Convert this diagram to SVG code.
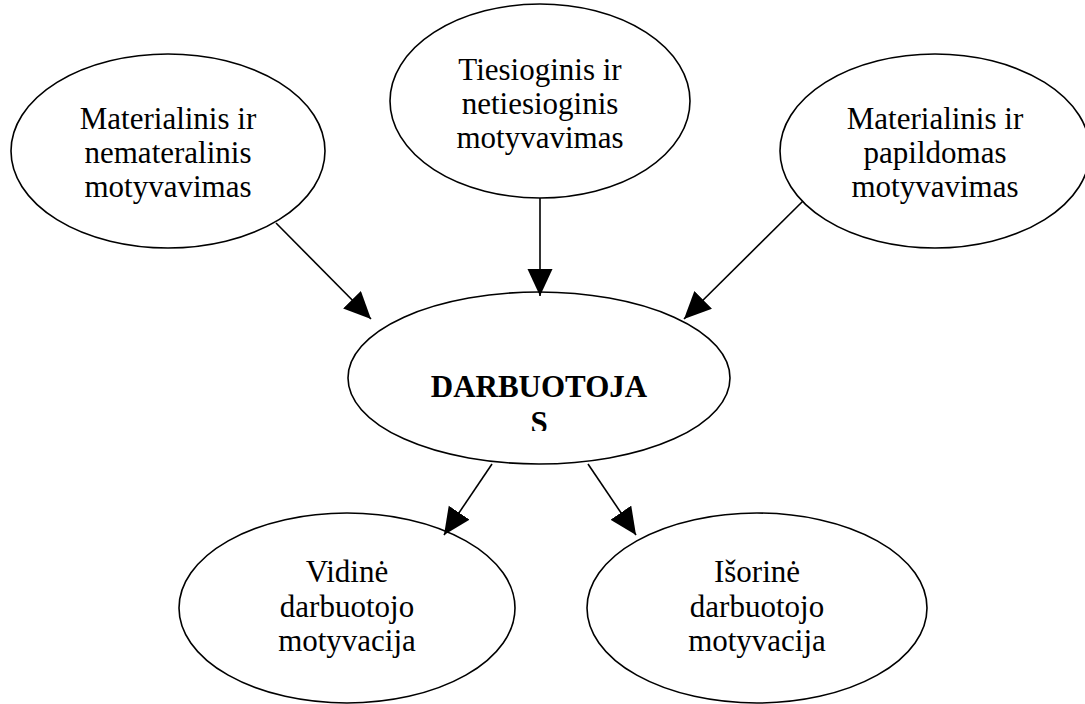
<svg xmlns="http://www.w3.org/2000/svg" width="1085" height="704" viewBox="0 0 1085 704">
<style>
.node ellipse{fill:#fff;stroke:#000;stroke-width:1.6}
.node text{font-family:"Liberation Serif","Times New Roman",serif;font-size:31px;fill:#000;text-anchor:middle}
.node text.b{font-weight:bold}
.conn line{stroke:#000;stroke-width:1.6;marker-end:url(#ah)}
</style>
<defs>
<marker id="ah" markerUnits="userSpaceOnUse" markerWidth="28" markerHeight="26" refX="27" refY="12.5" orient="auto">
<path d="M0,0 L27,12.5 L0,25 Z" fill="#000"/>
</marker>
<clipPath id="cc"><rect x="340" y="290" width="400" height="141"/></clipPath>
</defs>
<rect width="1085" height="704" fill="#fff"/>
<g id="n_material1" class="node">
<ellipse cx="168" cy="151" rx="157" ry="97"/>
<text x="168" y="129">Materialinis ir</text>
<text x="168" y="163">nemateralinis</text>
<text x="168" y="197">motyvavimas</text>
</g>
<g id="n_tiesioginis" class="node">
<ellipse cx="540" cy="101" rx="150" ry="97"/>
<text x="540" y="80">Tiesioginis ir</text>
<text x="540" y="114">netiesioginis</text>
<text x="540" y="148">motyvavimas</text>
</g>
<g id="n_material2" class="node">
<ellipse cx="935" cy="151" rx="155" ry="97"/>
<text x="935" y="129">Materialinis ir</text>
<text x="935" y="163">papildomas</text>
<text x="935" y="197">motyvavimas</text>
</g>
<g id="n_darbuotojas" class="node">
<ellipse cx="539" cy="378" rx="191" ry="86"/>
<g clip-path="url(#cc)">
<text class="b" x="539" y="397">DARBUOTOJA</text>
<text class="b" x="539" y="433">S</text>
</g>
</g>
<g id="n_vidine" class="node">
<ellipse cx="347" cy="608" rx="168" ry="95"/>
<text x="347" y="582">Vidinė</text>
<text x="347" y="617">darbuotojo</text>
<text x="347" y="651">motyvacija</text>
</g>
<g id="n_isorine" class="node">
<ellipse cx="757" cy="608" rx="170" ry="95"/>
<text x="757" y="582">Išorinė</text>
<text x="757" y="617">darbuotojo</text>
<text x="757" y="651">motyvacija</text>
</g>
<g id="connectors" class="conn">
<line x1="276" y1="223" x2="371" y2="319"/>
<line x1="540" y1="198" x2="540" y2="296"/>
<line x1="803" y1="201" x2="684" y2="319"/>
<line x1="492" y1="464" x2="444" y2="535"/>
<line x1="588" y1="464" x2="636" y2="535"/>
</g>
</svg>
